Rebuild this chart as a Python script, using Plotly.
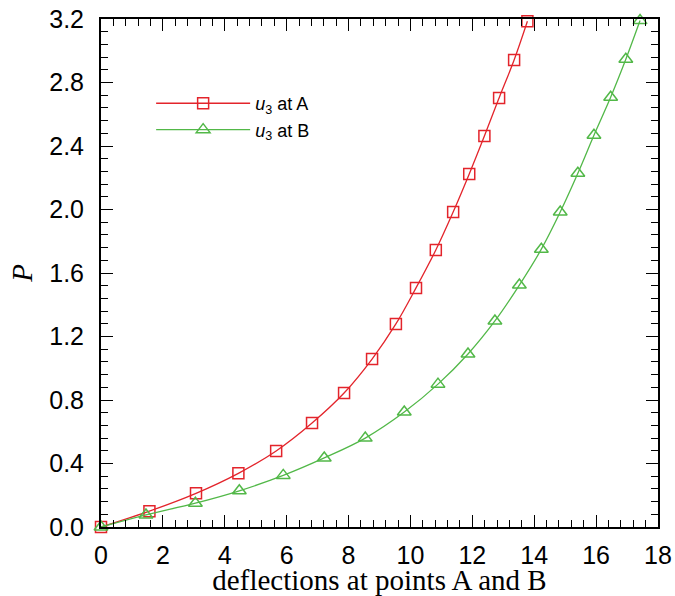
import plotly.graph_objects as go

# Load P versus out-of-plane deflection u3 at the two monitored points
defl_a = [0.0, 1.565, 3.07, 4.44, 5.66, 6.82, 7.855, 8.76, 9.53, 10.18, 10.82,
          11.38, 11.9, 12.39, 12.865, 13.35, 13.78]
load_a = [0.0, 0.10, 0.212, 0.338, 0.479, 0.655, 0.844, 1.058, 1.279, 1.506,
          1.745, 1.984, 2.224, 2.463, 2.703, 2.942, 3.186]

defl_b = [0.0, 1.453, 3.05, 4.47, 5.89, 7.215, 8.54, 9.80, 10.89, 11.86, 12.73,
          13.52, 14.23, 14.84, 15.41, 15.93, 16.47, 16.96, 17.42]
load_b = [0.0, 0.076, 0.15, 0.228, 0.325, 0.435, 0.56, 0.724, 0.9, 1.09, 1.298,
          1.524, 1.75, 1.984, 2.228, 2.468, 2.707, 2.946, 3.19]

x_ticks = [0, 2, 4, 6, 8, 10, 12, 14, 16, 18]
y_ticks = [0.0, 0.4, 0.8, 1.2, 1.6, 2.0, 2.4, 2.8, 3.2]

RED = "#e3242b"
GREEN = "#52b848"

fig = go.Figure()
fig.add_trace(go.Scatter(
    x=defl_a, y=load_a, mode="lines+markers", name="<i>u</i><sub>3</sub> at A",
    line=dict(color=RED, width=1.3, shape="spline"),
    marker=dict(symbol="square-open", size=11, color=RED, line=dict(width=1.5)),
    cliponaxis=False,
))
fig.add_trace(go.Scatter(
    x=defl_b, y=load_b, mode="lines+markers", name="<i>u</i><sub>3</sub> at B",
    line=dict(color=GREEN, width=1.3, shape="spline"),
    marker=dict(symbol="triangle-up-open", size=12, color=GREEN, line=dict(width=1.5)),
    cliponaxis=False,
))

axis_common = dict(
    showgrid=False, zeroline=False, showline=True, linecolor="black", linewidth=2,
    ticks="inside", ticklen=12, tickwidth=1.2, tickcolor="black", mirror="allticks",
    tickfont=dict(family="Liberation Sans, Arial", size=25, color="black"),
    ticklabeloverflow="allow", automargin=False,
)

fig.update_xaxes(
    range=[0, 18], tickvals=x_ticks, ticktext=[str(v) for v in x_ticks],
    minor=dict(dtick=0.4, ticks="inside", ticklen=7, tickwidth=1, tickcolor="black"),
    title=dict(text="deflections at points A and B",
               font=dict(family="Liberation Serif, Times New Roman", size=29, color="black"),
               standoff=0),
    ticklabelstandoff=5,
    **axis_common,
)
fig.update_yaxes(
    range=[0, 3.2], tickvals=y_ticks, ticktext=[f"{v:.1f}" for v in y_ticks],
    minor=dict(dtick=0.08, ticks="inside", ticklen=7, tickwidth=1, tickcolor="black"),
    title=dict(text="<i>P</i>",
               font=dict(family="Liberation Serif, Times New Roman", size=29, color="black"),
               standoff=8),
    ticklabelstandoff=10,
    **axis_common,
)

fig.update_layout(
    width=675, height=596,
    margin=dict(l=101, r=17, t=19, b=69),
    paper_bgcolor="white", plot_bgcolor="white",
    showlegend=True,
    legend=dict(
        x=0.09, y=0.87, xanchor="left", yanchor="top",
        bgcolor="rgba(0,0,0,0)", itemwidth=94, tracegroupgap=0,
        font=dict(family="Liberation Sans, Arial", size=18, color="black"),
    ),
)

fig.write_html("out.html")
